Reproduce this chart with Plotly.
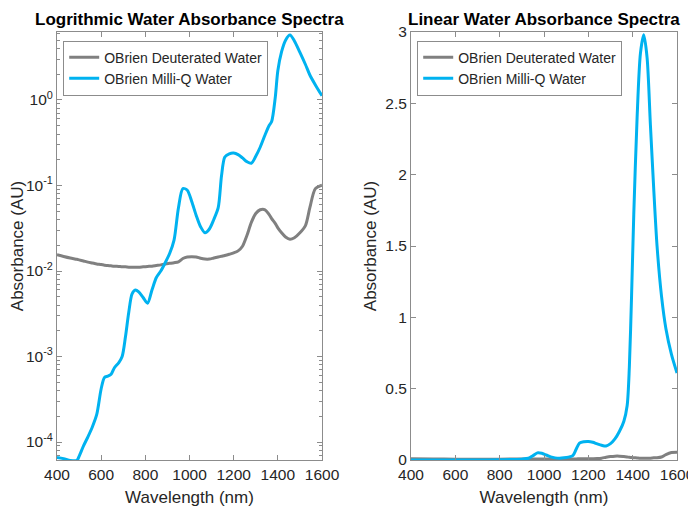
import plotly.graph_objects as go

# ---- data: logarithmic panel ----
wl_log = [400, 430, 460, 490, 500, 520, 540, 560, 580, 600, 615, 630, 645, 660, 680, 695,
          710, 725, 740, 755, 770, 790, 810, 830, 850, 870, 890, 910, 930, 950, 970, 990,
          1010, 1030, 1050, 1070, 1090, 1110, 1130, 1145, 1160, 1180, 1200, 1220, 1240, 1260,
          1280, 1300, 1320, 1342, 1360, 1372, 1388, 1400, 1417, 1435, 1455, 1475, 1500, 1525,
          1545, 1570, 1600]
mq_log = [6.6e-5, 6.4e-5, 6.1e-5, 6.1e-5, 6.8e-5, 9.0e-5, 1.15e-4, 1.5e-4, 2.1e-4, 4.2e-4,
          5.7e-4, 5.9e-4, 6.2e-4, 7.4e-4, 8.5e-4, 1.0e-3, 1.7e-3, 3.3e-3, 5.4e-3, 6.0e-3,
          5.7e-3, 4.9e-3, 4.2e-3, 6.0e-3, 8.4e-3, 1.0e-2, 1.25e-2, 1.6e-2, 2.3e-2, 5.5e-2,
          9.2e-2, 8.8e-2, 6.5e-2, 4.5e-2, 3.3e-2, 2.8e-2, 3.1e-2, 4.0e-2, 5.5e-2, 1.3e-1,
          2.15e-1, 2.35e-1, 2.4e-1, 2.3e-1, 2.1e-1, 1.9e-1, 1.82e-1, 2.2e-1, 2.8e-1, 3.9e-1,
          5.0e-1, 5.6e-1, 1.05, 2.2, 3.67, 5.0, 5.75, 4.9, 3.6, 2.6, 1.96, 1.5, 1.12]
d2o_log = [0.0155, 0.0148, 0.0142, 0.0137, 0.0135, 0.0131, 0.0127, 0.0124, 0.0121, 0.0119,
           0.0117, 0.0116, 0.0115, 0.0114, 0.0113, 0.0112, 0.0112, 0.0111, 0.0111, 0.0111,
           0.0111, 0.0112, 0.0113, 0.0114, 0.0116, 0.0118, 0.0121, 0.0123, 0.0125, 0.0128,
           0.0140, 0.0146, 0.0147, 0.0146, 0.0141, 0.0138, 0.0138, 0.0142, 0.0146, 0.0149,
           0.0152, 0.0157, 0.0163, 0.0172, 0.0195, 0.026, 0.037, 0.047, 0.052, 0.052,
           0.046, 0.041, 0.036, 0.032, 0.028, 0.025, 0.0235, 0.0245, 0.028, 0.034,
           0.055, 0.092, 0.101]

# ---- data: linear panel ----
wl_lin = [400, 500, 600, 700, 800, 900, 930, 950, 970, 990, 1010, 1030, 1050, 1070, 1090,
          1110, 1130, 1145, 1160, 1180, 1200, 1220, 1240, 1260, 1280, 1300, 1320, 1340, 1360,
          1375, 1385, 1395, 1405, 1420, 1435, 1450, 1465, 1480, 1495, 1510, 1530, 1550, 1575,
          1600]
mq_lin = [0.0, 0.0, 0.0, 0.0, 0.002, 0.006, 0.012, 0.03, 0.05, 0.047, 0.035, 0.022, 0.015,
          0.013, 0.015, 0.02, 0.03, 0.075, 0.118, 0.128, 0.13, 0.124, 0.113, 0.103, 0.098,
          0.115, 0.148, 0.2, 0.27, 0.38, 0.65, 1.15, 1.72, 2.4, 2.85, 2.98, 2.82, 2.35, 1.9,
          1.5, 1.15, 0.92, 0.74, 0.61]
d2o_lin = [0.008, 0.007, 0.006, 0.006, 0.006, 0.0065, 0.0066, 0.0068, 0.0073, 0.0077, 0.0077,
           0.0076, 0.0074, 0.0072, 0.0072, 0.0074, 0.0076, 0.0078, 0.008, 0.0082, 0.0085,
           0.009, 0.01, 0.013, 0.019, 0.024, 0.027, 0.027, 0.024, 0.021, 0.019, 0.017, 0.016,
           0.014, 0.012, 0.012, 0.0125, 0.013, 0.015, 0.016, 0.021, 0.038, 0.052, 0.054]

names = ["OBrien Deuterated Water", "OBrien Milli-Q Water"]
titles = ["Logrithmic Water Absorbance Spectra", "Linear Water Absorbance Spectra"]
xticks = [400, 600, 800, 1000, 1200, 1400, 1600]
log_tickvals = [1e-4, 1e-3, 1e-2, 1e-1, 1]
log_ticktext = ["10<sup>-4</sup>", "10<sup>-3</sup>", "10<sup>-2</sup>", "10<sup>-1</sup>", "10<sup>0</sup>"]
lin_tickvals = [0, 0.5, 1, 1.5, 2, 2.5, 3]
lin_ticktext = ["0", "0.5", "1", "1.5", "2", "2.5", "3"]

GRAY = "rgb(128,128,128)"
BLUE = "rgb(0,178,240)"
TXT = "rgb(38,38,38)"
AX = "rgb(140,140,140)"
FONT = "Liberation Sans, Arial, sans-serif"

fig = go.Figure()
fig.add_trace(go.Scatter(x=wl_log, y=d2o_log, name=names[0], mode="lines",
                         line=dict(color=GRAY, width=3, shape="spline", smoothing=0.8),
                         xaxis="x", yaxis="y", legend="legend"))
fig.add_trace(go.Scatter(x=wl_log, y=mq_log, name=names[1], mode="lines",
                         line=dict(color=BLUE, width=3, shape="spline", smoothing=0.8),
                         xaxis="x", yaxis="y", legend="legend"))
fig.add_trace(go.Scatter(x=wl_lin, y=d2o_lin, name=names[0], mode="lines",
                         line=dict(color=GRAY, width=3, shape="spline", smoothing=0.8),
                         xaxis="x2", yaxis="y2", legend="legend2"))
fig.add_trace(go.Scatter(x=wl_lin, y=mq_lin, name=names[1], mode="lines",
                         line=dict(color=BLUE, width=3, shape="spline", smoothing=0.8),
                         xaxis="x2", yaxis="y2", legend="legend2"))

common_x = dict(range=[400, 1600], tickvals=xticks, ticks="inside", ticklen=5,
                tickcolor=AX, showline=True, linecolor=AX, linewidth=1, mirror="ticks",
                showgrid=False, zeroline=False,
                tickfont=dict(size=15.5, color=TXT, family=FONT),
                title=dict(text="Wavelength (nm)", font=dict(size=17, color=TXT, family=FONT),
                           standoff=9))
dL = [0, 265 / 620]
dR = [354 / 620, 1]

legend_style = dict(bgcolor="white", bordercolor=AX, borderwidth=1,
                    font=dict(size=14, color=TXT, family=FONT),
                    xanchor="left", yanchor="top", tracegroupgap=0, itemwidth=30)

# the page body has an 8px margin, so the figure is offset by 8px
fig.update_layout(
    width=696, height=520,
    margin=dict(l=49, r=27, t=24, b=68, autoexpand=False),
    paper_bgcolor="white", plot_bgcolor="white",
    font=dict(family=FONT, color=TXT),
    xaxis=dict(domain=dL, anchor="y", **common_x),
    xaxis2=dict(domain=dR, anchor="y2", **common_x),
    yaxis=dict(type="log", range=[-4.21, 0.795], tickvals=log_tickvals, ticktext=log_ticktext,
               ticks="inside", ticklen=5, tickcolor=AX, showline=True, linecolor=AX,
               linewidth=1, mirror="ticks", showgrid=False, zeroline=False,
               minor=dict(ticks="inside", ticklen=3, tickcolor=AX, dtick="D1", showgrid=False),
               tickfont=dict(size=15.5, color=TXT, family=FONT),
               title=dict(text="Absorbance (AU)", font=dict(size=17, color=TXT, family=FONT),
                          standoff=4)),
    yaxis2=dict(anchor="x2", range=[0, 3], tickvals=lin_tickvals, ticktext=lin_ticktext,
                ticks="inside", ticklen=5, tickcolor=AX, showline=True, linecolor=AX,
                linewidth=1, mirror="ticks", showgrid=False, zeroline=False,
                tickfont=dict(size=15.5, color=TXT, family=FONT),
                title=dict(text="Absorbance (AU)", font=dict(size=17, color=TXT, family=FONT),
                           standoff=4)),
    legend=dict(x=0.01, y=0.98, **legend_style),
    legend2=dict(x=dR[0] + 0.01, y=0.98, **legend_style),
    showlegend=True,
)

for dom, t in zip([dL, dR], titles):
    fig.add_annotation(text="<b>" + t + "</b>", xref="paper", yref="paper",
                       x=(dom[0] + dom[1]) / 2, xanchor="center", y=1, yanchor="bottom",
                       yshift=1, showarrow=False,
                       font=dict(size=17, color="black", family=FONT))

fig.write_html("out.html")
